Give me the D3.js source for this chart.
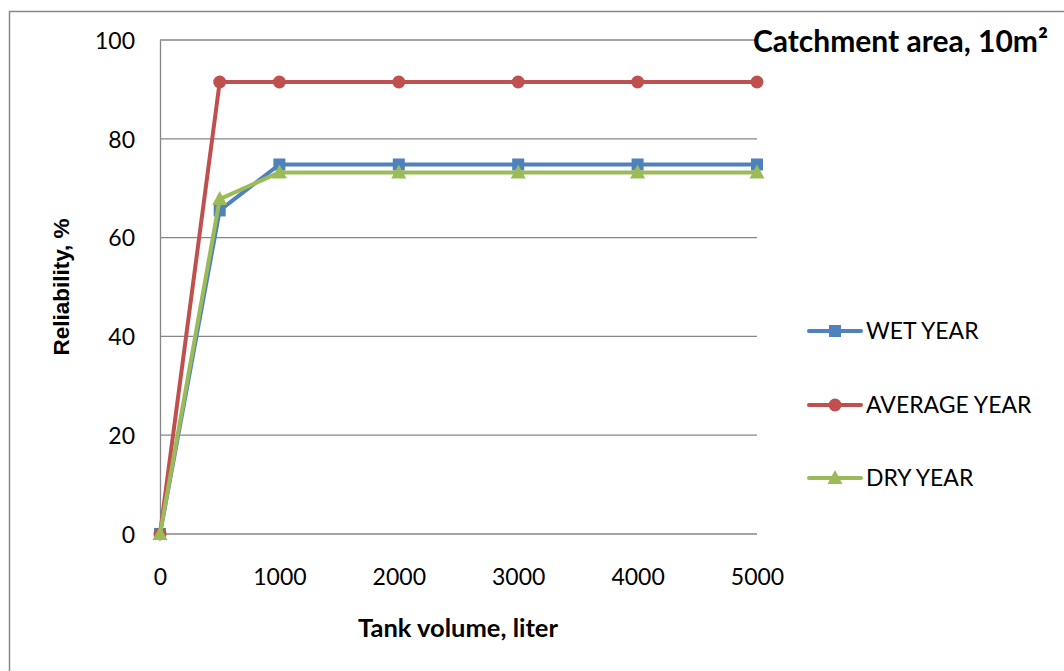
<!DOCTYPE html>
<html>
<head>
<meta charset="utf-8">
<script src="https://cdn.jsdelivr.net/npm/d3@7"></script>
<style>
body { margin: 0; background: #fff; }
text { font-family: Lato, "Open Sans", sans-serif; fill: #000; }
</style>
</head>
<body>
<script>
// tank volume (liter)
var volumes = [0, 500, 1000, 2000, 3000, 4000, 5000];
var wetYear = [0, 65.5, 74.8, 74.8, 74.8, 74.8, 74.8];
var averageYear = [0, 91.5, 91.5, 91.5, 91.5, 91.5, 91.5];
var dryYear = [0, 67.8, 73.2, 73.2, 73.2, 73.2, 73.2];
var seriesNames = ["WET YEAR", "AVERAGE YEAR", "DRY YEAR"];
var xTicks = [0, 1000, 2000, 3000, 4000, 5000];
var yTicks = [0, 20, 40, 60, 80, 100];

var series = [
	{name: seriesNames[0], values: wetYear, color: "#4F81BD", marker: "square"},
	{name: seriesNames[1], values: averageYear, color: "#C0504D", marker: "circle"},
	{name: seriesNames[2], values: dryYear, color: "#9BBB59", marker: "triangle"}
];

var svg = d3.select("body").append("svg")
	.attr("width", 1064)
	.attr("height", 671);

// outer chart border
svg.append("rect")
	.attr("x", 9.5).attr("y", 11.5)
	.attr("width", 1070).attr("height", 680)
	.style("fill", "none")
	.style("stroke", "#868686")
	.style("stroke-width", 1.5);

var x = d3.scaleLinear().domain([0, 5000]).range([160, 757]);
var y = d3.scaleLinear().domain([0, 100]).range([534, 40]);

// gridlines
svg.append("g").selectAll("line")
	.data(yTicks)
	.enter()
	.append("line")
	.attr("x1", x(0)).attr("x2", x(5000))
	.attr("y1", function(d){ return y(d) })
	.attr("y2", function(d){ return y(d) })
	.style("stroke", "#868686")
	.style("stroke-width", 1.3);

// y axis
var yAxis = svg.append("g")
	.attr("transform", "translate(" + x(0) + ",0)")
	.call(d3.axisLeft(y).tickValues(yTicks).tickSize(0).tickPadding(25));
yAxis.select(".domain").style("stroke", "#868686").style("stroke-width", 1.3);
yAxis.selectAll("text").style("font-size", "23px").attr("dy", "0.36em");

// x axis labels only (no line)
var xAxis = svg.append("g")
	.attr("transform", "translate(0," + y(0) + ")")
	.call(d3.axisBottom(x).tickValues(xTicks).tickSize(0).tickFormat(d3.format("d")));
xAxis.select(".domain").remove();
xAxis.selectAll("text").style("font-size", "23px").attr("y", 51).attr("dy", 0);

// axis titles
svg.append("text")
	.attr("x", 458).attr("y", 637)
	.attr("text-anchor", "middle")
	.style("font-weight", "bold")
	.style("font-size", "25.5px")
	.text("Tank volume, liter");

svg.append("text")
	.attr("transform", "translate(69,287) rotate(-90)")
	.attr("text-anchor", "middle")
	.style("font-family", "'Liberation Sans', Arial, sans-serif")
	.style("font-weight", "bold")
	.style("font-size", "22.5px")
	.text("Reliability, %");

// chart title
svg.append("text")
	.attr("x", 1048).attr("y", 52)
	.attr("text-anchor", "end")
	.style("font-weight", "bold")
	.style("font-size", "30px")
	.text("Catchment area, 10m\u00B2");

var line = d3.line()
	.x(function(d, i){ return x(volumes[i]) })
	.y(function(d){ return y(d) });

function drawMarker(g, type, color, cx, cy){
	if (type === "square") {
		g.append("rect").attr("x", cx - 6).attr("y", cy - 6)
			.attr("width", 12).attr("height", 12).style("fill", color);
	} else if (type === "circle") {
		g.append("circle").attr("cx", cx).attr("cy", cy).attr("r", 6.5).style("fill", color);
	} else {
		g.append("path")
			.attr("d", "M" + cx + "," + (cy - 8) + "L" + (cx + 7.5) + "," + (cy + 6) + "L" + (cx - 7.5) + "," + (cy + 6) + "Z")
			.style("fill", color);
	}
}

series.forEach(function(s){
	var g = svg.append("g");
	g.append("path")
		.datum(s.values)
		.attr("d", line)
		.style("fill", "none")
		.style("stroke", s.color)
		.style("stroke-width", 4)
		.style("stroke-linejoin", "round");
	s.values.forEach(function(v, i){
		drawMarker(g, s.marker, s.color, x(volumes[i]), y(v));
	});
});

// legend
var legendY = [331, 405, 478];
series.forEach(function(s, i){
	var g = svg.append("g");
	g.append("line")
		.attr("x1", 809).attr("x2", 861)
		.attr("y1", legendY[i]).attr("y2", legendY[i])
		.style("stroke", s.color)
		.style("stroke-width", 4)
		.style("stroke-linecap", "round");
	drawMarker(g, s.marker, s.color, 835, legendY[i]);
	g.append("text")
		.attr("x", 866).attr("y", legendY[i])
		.attr("dy", "0.36em")
		.style("font-size", "23px")
		.text(s.name);
});
</script>
</body>
</html>
